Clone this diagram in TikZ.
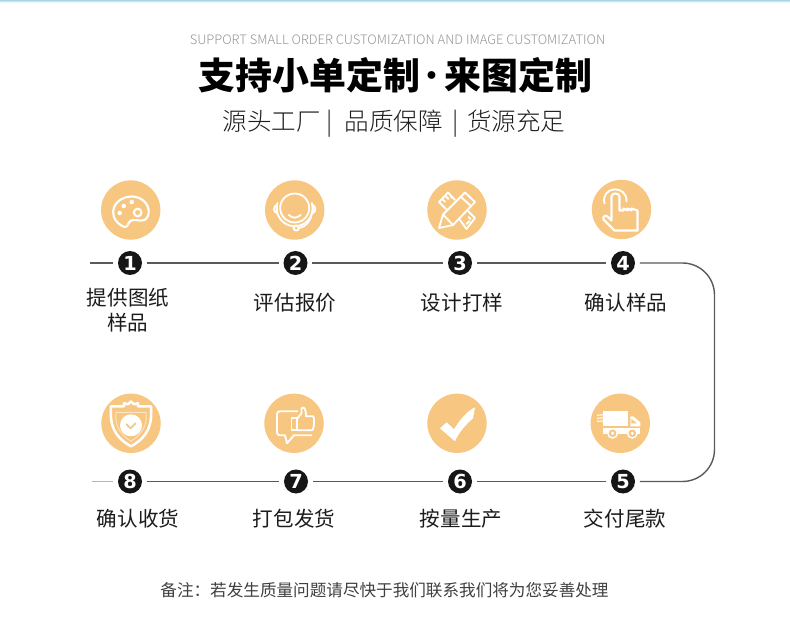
\documentclass[tikz,border=0pt]{standalone}
\usepackage{fontspec}
\setmainfont{Noto Sans CJK SC}
\newfontfamily\lightcjk{Noto Sans CJK SC Light}
\newfontfamily\numfont{DejaVu Sans}[BoldFont={DejaVu Sans Bold}]
\usetikzlibrary{calc}
\definecolor{iconorange}{HTML}{F7C680}
\definecolor{linegray}{HTML}{5A5A5A}
\definecolor{numblack}{HTML}{161616}
\definecolor{labeltext}{HTML}{1C1C1C}
\definecolor{topband}{HTML}{A5D6E8}
\newcommand{\fsize}[1]{\fontsize{#1}{#1}\selectfont}
\tikzset{
  x=0.75pt,y=-0.75pt,
  disc/.style={circle,fill=iconorange,minimum size=44.5pt,inner sep=0pt},
  numdot/.style={circle,fill=numblack,minimum size=18pt,inner sep=0pt,outer sep=3.6pt,text=white,font=\numfont\bfseries\fsize{14.5}},
  steplabel/.style={text=labeltext,font=\fsize{15.4},align=center,inner sep=0pt},
  flow/.style={draw=linegray,line width=1.05pt},
  ic/.style={draw=white,line width=1.4pt,line join=round,line cap=round,fill=none},
}
\begin{document}
\begin{tikzpicture}
\useasboundingbox (0,0) rectangle (790,624);
\fill[white] (0,0) rectangle (790,624);
\shade[top color=topband,bottom color=white] (0,0) rectangle (790,2.5);
% headings
\node[inner sep=0pt,text=black!42,font=\lightcjk\fsize{9.73}] (eng) at (397.5,39.5) {SUPPORT SMALL ORDER CUSTOMIZATION AND IMAGE CUSTOMIZATION};
\node[inner sep=0pt,text=black,font=\bfseries\fsize{27.7}] (title) at (395.5,75) {支持小单定制\kern-4.5pt{\mdseries ·}\kern-4.5pt来图定制};
\node[inner sep=0pt,text=labeltext,font=\lightcjk\fsize{18.4}] (sub) at (394,123.5) {源头工厂\kern4.5pt|\kern9pt 品质保障\kern6.75pt|\kern6.75pt货源充足};
% discs
\node[disc] (d1) at (130.7,210) {};
\node[disc] (d2) at (294.7,210) {};
\node[disc] (d3) at (457,210) {};
\node[disc] (d4) at (621.5,209.5) {};
\node[disc] (d5) at (620.3,423.3) {};
\node[disc] (d6) at (457,423.3) {};
\node[disc] (d7) at (294,423.3) {};
\node[disc] (d8) at (131,423.3) {};
% number dots
\node[numdot] (n1) at (130,263) {1};
\node[numdot] (n2) at (295.5,263) {2};
\node[numdot] (n3) at (460,263) {3};
\node[numdot] (n4) at (623,263) {4};
\node[numdot] (n5) at (623,481.5) {5};
\node[numdot] (n6) at (460,481.5) {6};
\node[numdot] (n7) at (296,481.5) {7};
\node[numdot] (n8) at (130,481.5) {8};
% connectors
\coordinate (startl) at (90,263);
\coordinate (endl) at (92,481.5);
\coordinate (cornerT) at (714.5,263);
\coordinate (cornerB) at (714.5,481.5);
\draw[flow] (startl) -- (n1);
\draw[flow] (n1) -- (n2);
\draw[flow] (n2) -- (n3);
\draw[flow] (n3) -- (n4);
\draw[flow,rounded corners=24pt] (n4) -- (cornerT) -- (cornerB) -- (n5);
\draw[flow] (n5) -- (n6);
\draw[flow] (n6) -- (n7);
\draw[flow] (n7) -- (n8);
\draw[draw=linegray!45,line width=1.05pt] (n8) -- (endl);
% labels
\node[steplabel] (l1) at (128,310.5) {提供图纸\\[3.5pt]样品};
\node[steplabel] (l2) at (295,303) {评估报价};
\node[steplabel] (l3) at (462,303) {设计打样};
\node[steplabel] (l4) at (626,303) {确认样品};
\node[steplabel] (l5) at (625,518.5) {交付尾款};
\node[steplabel] (l6) at (461,518.5) {按量生产};
\node[steplabel] (l7) at (294,518.5) {打包发货};
\node[steplabel] (l8) at (138,518.5) {确认收货};
\node[inner sep=0pt,text=black!75,font=\fsize{12.45}] (foot) at (384.5,590) {备注：若发生质量问题请尽快于我们联系我们将为您妥善处理};
% icon 1 palette
\begin{scope}[shift={(d1.center)}]
\draw[ic,line width=1.6pt] (-6,17) .. controls (-9,16) and (-15,13) .. (-17,6) .. controls (-20,-6) and (-9,-13.5) .. (1,-13.5) .. controls (12,-13.5) and (18,-5) .. (18,1) .. controls (18,9) and (14,11) .. (9,10.5) .. controls (4,10) and (0,9) .. (-2,13) .. controls (-3,16) and (-4,17) .. (-6,17) -- cycle;
\fill[white] (-7,-4) circle (2.3);
\fill[white] (-11,3) circle (2.3);
\fill[white] (1,-8) circle (2.3);
\draw[ic,line width=1.6pt] (7,2.5) circle (3.8);
\end{scope}
% icon 2 headset
\begin{scope}[shift={(d2.center)}]
\draw[ic] (-17.2,-7) arc (197:-17:18);
\draw[ic] (0,-2) circle (14.5);
\draw[ic] (-6,5) .. controls (-2,8.5) and (2,8.5) .. (6,5);
\draw[ic] (-18,-5) .. controls (-21.5,-4) and (-21.5,2) .. (-18,3) -- cycle;
\draw[ic] (18,-5) .. controls (21.5,-4) and (21.5,2) .. (18,3) -- cycle;
\draw[ic] (17,4) .. controls (16,11) and (11,17) .. (4.5,18);
\draw[ic] (1.5,18) circle (2.6);
\end{scope}
% icon 3 pencil ruler
\begin{scope}[shift={(d3.center)}]
\draw[ic] (-2,-10) -- (-9,-17.5) -- (-18,-8) -- (-11,-1);
\draw[ic] (-11.5,-14) -- (-8.5,-11) (-14.5,-10.8) -- (-12,-8.2) (-6.5,-14) -- (-4.5,-12);
\draw[ic] (3,10) -- (9.5,19) -- (18,8) -- (11,1);
\draw[ic] (9.5,14) -- (12.5,11) (13.5,9) -- (11.5,7);
\draw[ic] (8,-17.5) -- (18,-8) -- (-4,15) -- (-18,18) -- (-14,4.5) -- cycle;
\draw[ic] (4,-13) -- (14,-4);
\draw[ic] (-14,4.5) -- (-4,15);
\end{scope}
% icon 4 hand
\begin{scope}[shift={(d4.center)}]
\draw[ic,line width=1.6pt] (16,21) -- (-7,21) -- (-18,10) .. controls (-19,7) and (-16,5) .. (-14,7) -- (-10,11) -- (-10,-13) .. controls (-10,-17) and (-2,-17) .. (-2,-13) -- (-2,1) -- (2,1) -- (2,-1) -- (6,1) -- (6,-1) -- (10,1) -- (10,-1) -- (16,1) -- cycle;
\draw[ic] (-17,-6) .. controls (-21,-24) and (6,-25) .. (5,-8);
\end{scope}
% icon 5 truck
\begin{scope}[shift={(d5.center)}]
\fill[white] (-17,-12) rectangle (8,3);
\fill[white] (10,-7) -- (13,-7) -- (20,-1) -- (20,3) -- (10,3) -- cycle;
\fill[white] (-17,4.5) rectangle (20,11);
\fill[iconorange] (11,-4.5) -- (16.5,0) -- (11,0) -- cycle;
\foreach \wx in {-7.7,12}{
 \fill[white] (\wx,10) circle (5.5);
 \fill[iconorange] (\wx,10) circle (3.8);
 \fill[white] (\wx,10) circle (1.7);
}
\draw[ic,line width=0.8pt] (-23,-8) -- (-12,-9) (-23,-5) -- (-10,-6) (-23,-2) -- (-8,-3);
\end{scope}
% icon 6 check
\begin{scope}[shift={(d6.center)}]
\fill[white] (-17,5) -- (-10.3,-1) -- (-3,6) .. controls (3,-4) and (10,-12) .. (18,-16) -- (16,-5) .. controls (8,2) and (2,9) .. (-2,18) -- cycle;
\end{scope}
% icon 7 thumbs
\begin{scope}[shift={(d7.center)}]
\draw[ic] (3.5,-12) -- (-14,-12) .. controls (-16,-12) and (-17,-11) .. (-17,-9) -- (-17,9) .. controls (-17,11) and (-16,12) .. (-14,12) -- (-9,12) -- (-7,20) -- (0,12) -- (17.5,12);
\draw[ic] (-2.5,-5) rectangle (3,7);
\draw[ic] (3.5,-5) -- (7.5,-10) -- (7.5,-15) .. controls (10,-17) and (12,-15) .. (12,-7) -- (19,-7) .. controls (21,-6) and (20,7) .. (18,7) -- (3.5,7);
\end{scope}
% icon 8 shield
\begin{scope}[shift={(d8.center)}]
\draw[ic,line width=1.9pt] (-20,-17) -- (-7,-17) -- (-7,-20) -- (-3,-19) -- (0,-22) -- (3,-19) -- (7,-20) -- (7,-17) -- (20,-17) .. controls (21,-3) and (20,12) .. (0,23) .. controls (-20,12) and (-21,-3) .. (-20,-17) -- cycle;
\draw[draw=white!55!iconorange,line width=0.7pt,line join=round] (-15,-11) -- (15,-11) .. controls (16,-1) and (14,9) .. (0,18) .. controls (-14,9) and (-16,-1) .. (-15,-11) -- cycle;
\fill[white] (0,2) circle (11);
\draw[draw=iconorange,line width=1.3pt,line cap=round,line join=round] (-4.5,1) -- (-0.5,5) -- (4.5,0);
\end{scope}
\end{tikzpicture}
\end{document}
